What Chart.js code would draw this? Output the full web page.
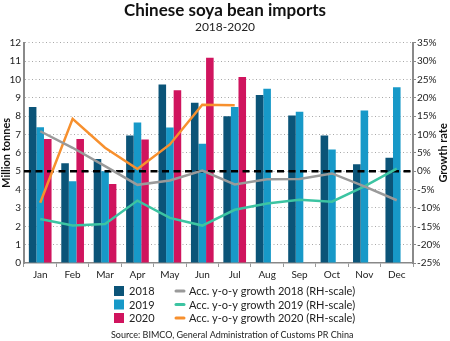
<!DOCTYPE html>
<html>
<head>
<meta charset="utf-8">
<script src="https://cdn.jsdelivr.net/npm/chart.js@4/dist/chart.umd.min.js"></script>
<style>
html,body{margin:0;padding:0;background:#fff;}
#wrap{width:450px;height:341px;position:relative;}
</style>
</head>
<body>
<div id="wrap"><canvas id="c" width="450" height="341"></canvas></div>
<script>
const months = ['Jan','Feb','Mar','Apr','May','Jun','Jul','Aug','Sep','Oct','Nov','Dec'];
const imports2018 = [8.5, 5.44, 5.67, 6.95, 9.73, 8.73, 8.0, 9.16, 8.04, 6.95, 5.38, 5.73];
const imports2019 = [7.4, 4.45, 5.0, 7.65, 7.38, 6.5, 8.5, 9.5, 8.24, 6.18, 8.31, 9.58];
const imports2020 = [6.76, 6.76, 4.3, 6.73, 9.42, 11.18, 10.13, null, null, null, null, null];
const growth2018 = [10.9, 6.4, 1.4, -3.7, -2.5, 0.2, -3.6, -2.2, -2.1, -0.6, -4.1, -7.9];
const growth2019 = [-13.0, -14.8, -14.4, -8.0, -12.7, -14.8, -10.5, -8.8, -7.8, -8.3, -4.1, 0.7];
const growth2020 = [-8.6, 14.3, 6.4, 0.6, 7.3, 18.1, 18.0, null, null, null, null, null];
const leftTicks = [0,1,2,3,4,5,6,7,8,9,10,11,12];
const rightTicks = [-25,-20,-15,-10,-5,0,5,10,15,20,25,30,35];

const FONT = 'Lato, "Open Sans", sans-serif';
const C2018 = '#0b5478', C2019 = '#1799c8', C2020 = '#d0145e';
const CG18 = '#9a9a9a', CG19 = '#3cc4a2', CG20 = '#f7902e';

const legendPlugin = {
  id: 'customLegend',
  afterDraw(chart) {
    const ctx = chart.ctx;
    const ds = chart.data.datasets;
    ctx.save();
    ctx.font = '11px ' + FONT;
    ctx.textBaseline = 'middle';
    ctx.fillStyle = '#222';
    const rowsY = [291, 304.5, 318];
    const bars = ds.filter(d => d.type === 'bar');
    const lines = ds.filter(d => d.type === 'line');
    bars.forEach((d, i) => {
      ctx.fillStyle = d.backgroundColor;
      ctx.fillRect(114, rowsY[i] - 5, 10, 10);
      ctx.fillStyle = '#222';
      ctx.textAlign = 'left';
      ctx.fillText(d.label, 129, rowsY[i] + 0.5);
    });
    lines.forEach((d, i) => {
      ctx.strokeStyle = d.borderColor;
      ctx.lineWidth = 3;
      ctx.lineCap = 'round';
      ctx.beginPath();
      ctx.moveTo(176, rowsY[i]);
      ctx.lineTo(184, rowsY[i]);
      ctx.stroke();
      ctx.fillStyle = '#222';
      ctx.fillText(d.label, 189, rowsY[i] + 0.5);
    });
    ctx.font = '9px ' + FONT;
    ctx.textAlign = 'left';
    ctx.fillText('Source: BIMCO, General Administration of Customs PR China', 111, 335.5);
    const y2 = chart.scales.y2;
    ctx.font = 'bold 11px ' + FONT;
    ctx.translate(y2.right - 7, (chart.chartArea.top + chart.chartArea.bottom) / 2);
    ctx.rotate(-Math.PI / 2);
    ctx.textAlign = 'center';
    ctx.fillStyle = '#111';
    ctx.fillText('Growth rate', 0, 0);
    ctx.restore();
  }
};

const zeroLinePlugin = {
  id: 'zeroLine',
  beforeDatasetsDraw(chart) { chart.$zeroDone = false; },
  beforeDatasetDraw(chart, args) {
    const d = chart.data.datasets[args.index];
    if (d.type === 'line' && !chart.$zeroDone) {
      chart.$zeroDone = true;
      const y = chart.scales.y2.getPixelForValue(0);
      const ctx = chart.ctx;
      ctx.save();
      ctx.strokeStyle = '#000';
      ctx.lineWidth = 2.5;
      ctx.setLineDash([7, 4.5]);
      ctx.beginPath();
      ctx.moveTo(chart.chartArea.left, y);
      ctx.lineTo(chart.chartArea.right, y);
      ctx.stroke();
      ctx.restore();
    }
  }
};

const lineDs = (label, data, color) => ({
  type: 'line', label, data, yAxisID: 'y2', borderColor: color, backgroundColor: color,
  borderWidth: 2.5, pointRadius: 0, tension: 0, order: 0, spanGaps: false
});
const barDs = (label, data, color) => ({
  type: 'bar', label, data, yAxisID: 'y', backgroundColor: color, order: 1,
  barPercentage: 1.0, categoryPercentage: 0.7
});

new Chart(document.getElementById('c'), {
  data: {
    labels: months,
    datasets: [
      barDs('2018', imports2018, C2018),
      barDs('2019', imports2019, C2019),
      barDs('2020', imports2020, C2020),
      lineDs('Acc. y-o-y growth 2018 (RH-scale)', growth2018, CG18),
      lineDs('Acc. y-o-y growth 2019 (RH-scale)', growth2019, CG19),
      lineDs('Acc. y-o-y growth 2020 (RH-scale)', growth2020, CG20)
    ]
  },
  options: {
    responsive: false,
    animation: false,
    layout: { padding: { left: 0, right: 0, top: 0, bottom: 58 } },
    plugins: {
      legend: { display: false },
      tooltip: { enabled: false },
      title: { display: true, text: 'Chinese soya bean imports', color: '#111',
        font: { family: FONT, size: 17, weight: 'bold' }, padding: { top: 0, bottom: 0 } },
      subtitle: { display: true, text: '2018-2020', color: '#222',
        font: { family: FONT, size: 12 }, padding: { top: 0, bottom: 8 } }
    },
    scales: {
      x: {
        offset: true,
        grid: { display: true, drawOnChartArea: false, drawTicks: true, tickLength: 4, offset: true, color: '#999' },
        border: { display: true, color: '#888', width: 1.5 },
        ticks: { color: '#222', font: { family: FONT, size: 10 }, padding: 2, maxRotation: 0, autoSkip: false }
      },
      y: {
        position: 'left', min: 0, max: 12,
        afterBuildTicks(s) { s.ticks = leftTicks.map(v => ({ value: v })); },
        afterFit(s) { s.width = 24; },
        grid: { color: (c) => c.tick && c.tick.value === 0 ? 'rgba(0,0,0,0)' : '#a8a8a8', lineWidth: 1, drawTicks: false },
        border: { display: true, color: '#8a8a8a', width: 2, dash: [1, 2.5] },
        ticks: { color: '#222', font: { family: FONT, size: 10 }, padding: 3 },
        title: { display: true, text: 'Million tonnes', color: '#111', font: { family: FONT, size: 11, weight: 'bold' }, padding: 0 }
      },
      y2: {
        position: 'right', min: -25, max: 35,
        afterBuildTicks(s) { s.ticks = rightTicks.map(v => ({ value: v })); },
        afterFit(s) { s.width = 37; },
        grid: { drawOnChartArea: false, drawTicks: true, tickLength: 3, color: '#888' },
        border: { display: true, color: '#8a8a8a', width: 2 },
        ticks: { color: '#222', font: { family: FONT, size: 10 }, padding: 1, callback: v => v + '%' },
        title: { display: false }
      }
    }
  },
  plugins: [zeroLinePlugin, legendPlugin]
});
</script>
</body>
</html>
